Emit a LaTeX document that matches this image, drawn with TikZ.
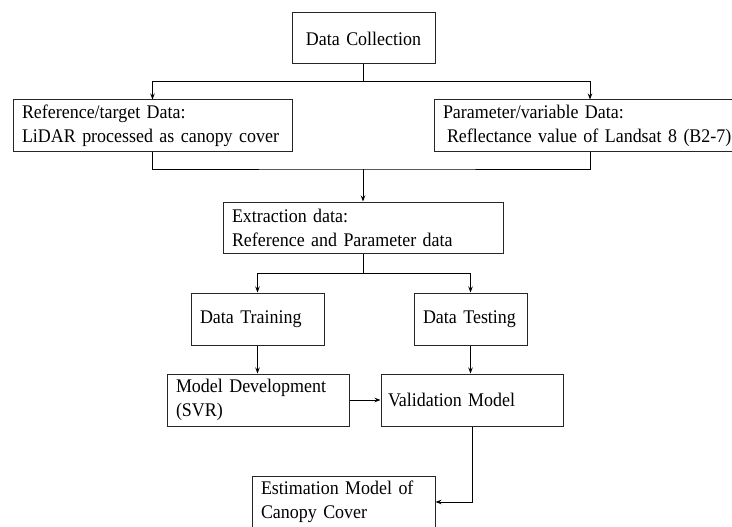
\documentclass[tikz,border=0pt]{standalone}
\usepackage{fontspec}
\setmainfont[FakeStretch=0.93]{Liberation Serif}
\usetikzlibrary{arrows.meta}
\begin{document}
\begin{tikzpicture}[x=1pt,y=-1pt,
  every node/.style={font=\fontsize{19.3}{24}\selectfont},
  box/.style={draw=black!85, line width=1pt, rectangle, inner xsep=9pt, inner ysep=2pt, align=left},
  conn/.style={line width=1pt, black},
  arr/.style={conn, -{Stealth[length=6pt,width=4.5pt]}}]
\clip (0,0) rectangle (732,527);
\fill[white] (0,0) rectangle (732,527);
\node[box, align=center, inner xsep=0pt, minimum width=143pt, text width=143pt, minimum height=51pt] (dc) at (363.5,38.5) {\mbox{Data Collection}};
\node[box, text width=261pt, minimum height=52pt] (ref) at (152.5,126) {\mbox{Reference/target Data:}\\\mbox{LiDAR processed as canopy cover}};
\node[box, text width=294pt, minimum height=52pt] (par) at (590,126) {\mbox{Parameter/variable Data:}\\\mbox{\hspace*{4pt}Reflectance value of Landsat 8 (B2-7)}};
\node[box, text width=262pt, minimum height=51pt] (ext) at (363,227.5) {\mbox{Extraction data:}\\\mbox{Reference and Parameter data}};
\node[box, text width=115pt, minimum height=52pt] (train) at (257.5,319) {\mbox{Data Training}};
\node[box, text width=95pt, minimum height=52pt] (test) at (470.5,319) {\mbox{Data Testing}};
\node[box, text width=164pt, minimum height=52pt] (md) at (258,400) {\mbox{Model Development}\\\mbox{(SVR)}};
\node[box, inner xsep=7pt, text width=168pt, minimum height=52pt] (val) at (472,400) {\mbox{Validation Model}};
\node[box, text width=165pt, minimum height=52pt] (est) at (343.5,502) {\mbox{Estimation Model of}\\\mbox{Canopy Cover}};
\coordinate (j1) at (363.5,82);
\coordinate (j2) at (363,169);
\coordinate (j3) at (363,273);
\draw[conn] (dc.south) -- (j1);
\draw[arr] (j1) -| (ref.north);
\draw[arr] (j1) -| (par.north);
\draw[conn] (ref.south) |- (j2) -| (par.south);
\draw[arr] (j2) -- (ext.north);
\draw[conn] (ext.south) -- (j3);
\draw[arr] (j3) -| (train.north);
\draw[arr] (j3) -| (test.north);
\draw[arr] (train.south) -- (train.south |- md.north);
\draw[arr] (test.south) -- (test.south |- val.north);
\draw[arr] (md.east) -- (val.west);
\draw[arr] (val.south) |- (est.east);
\end{tikzpicture}
\end{document}
